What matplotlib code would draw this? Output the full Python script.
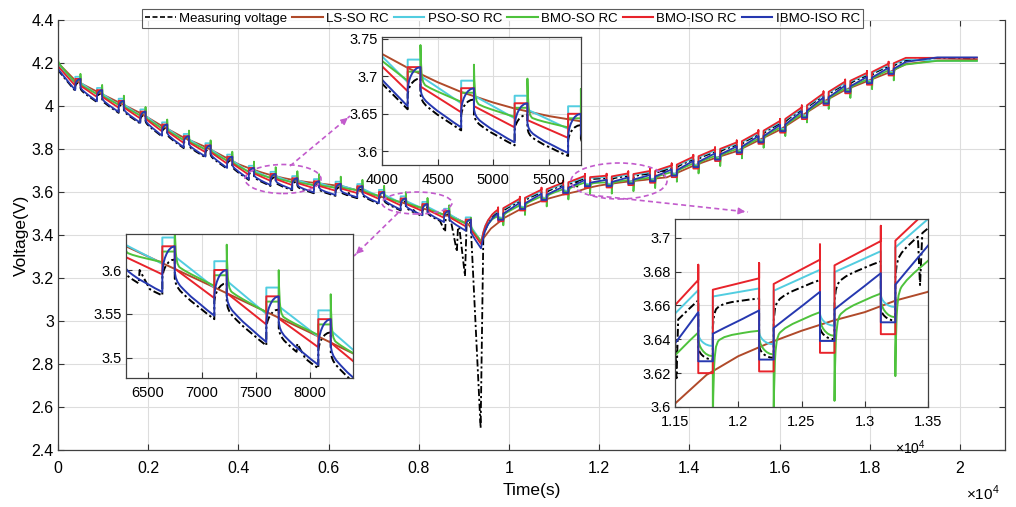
import numpy as np
import matplotlib.pyplot as plt
from matplotlib.patches import Ellipse, FancyArrowPatch
from matplotlib.lines import Line2D
from matplotlib.ticker import FuncFormatter

plt.rcParams['font.family'] = ['Liberation Sans', 'DejaVu Sans']
plt.rcParams['mathtext.fontset'] = 'custom'
plt.rcParams['mathtext.rm'] = 'Liberation Sans'

names = ['Measuring voltage', 'LS-SO RC', 'PSO-SO RC', 'BMO-SO RC', 'BMO-ISO RC', 'IBMO-ISO RC']
colors = ['black', '#B04A2A', '#52CDE0', '#4EC23C', '#E8232B', '#2638B0']

# rest periods of the pulse test (s)
dis_rest_start = [383, 864, 1345, 1826, 2307, 2788, 3269, 3750, 4231, 4712,
                  5193, 5674, 6155, 6636, 7117, 7598, 8079, 8560, 9041]
chg_rest_start = [9760, 10241, 10722, 11203, 11684, 12165, 12646, 13127, 13608, 14089,
                  14570, 15051, 15532, 16013, 16494, 16975, 17456, 17937, 18418]
rest_len = 115
t_min = 9380

# IBMO-ISO voltage just before every rest (discharge: bottoms, charge: tops)
dis_env_v = [4.074, 4.022, 3.972, 3.922, 3.862, 3.808, 3.765, 3.712, 3.660, 3.632,
             3.612, 3.598, 3.586, 3.575, 3.548, 3.518, 3.492, 3.460, 3.420]
chg_env_v = [3.500, 3.550, 3.592, 3.625, 3.656, 3.657, 3.668, 3.679, 3.705, 3.745,
             3.780, 3.812, 3.860, 3.912, 3.975, 4.040, 4.095, 4.135, 4.178]
start_v = 4.165
turn_t = [9380, 9450, 9550, 9650]
turn_v = [3.338, 3.410, 3.455, 3.482]
end_t = [18800, 19500, 20377]
end_v = [4.205, 4.222, 4.224]

# per model levels relative to the envelope (order as names)
start_level = [4.170, 4.200, 4.190, 4.215, 4.185, 4.175]
dis_offset = [-0.004, 0.045, 0.032, 0.034, 0.020, 0.0]
dis_rest_lo = [0.020, 0.0, 0.030, 0.012, 0.032, 0.022]
dis_rest_hi = [0.041, 0.0, 0.030, 0.012, 0.032, 0.052]
dis_relax = [0.026, 0.0, 0.015, 0.012, 0.013, 0.029]
dis_spike = [0.0, 0.0, 0.0, 0.042, 0.0, 0.0]
dis_shape = [0, 0, 2, 1, 2, 0]
chg_offset = [0.007, -0.020, 0.013, -0.012, 0.019, 0.0]
chg_rest_lo = [-0.028, 0.0, -0.026, -0.004, -0.055, -0.029]
chg_rest_hi = [-0.035, 0.0, -0.033, -0.014, -0.055, -0.029]
chg_pre_spike = [0.0, 0.0, 0.0, 0.0, 0.009, 0.0]
chg_relax = [-0.016, 0.0, -0.004, -0.020, -0.006, -0.013]
chg_spike = [0.0, 0.0, 0.0, -0.035, 0.0, 0.0]
chg_shape = [1, 0, 2, 1, 2, 2]
end_level = [4.223, 4.215, 4.210, 4.210, 4.224, 4.226]

# relaxation shapes read from the zoomed views
rest_dt = [0, 5, 12, 24, 40, 60, 85, 115]
rest_rise = [0, 0.2, 0.38, 0.56, 0.72, 0.86, 0.96, 1.0]
relax_dt = [0, 10, 25, 50, 90, 150, 240, 300, 366]
relax_exp = [1.0, 0.8, 0.67, 0.56, 0.46, 0.33, 0.19, 0.09, 0.0]
relax_fast = [1.0, 0.55, 0.35, 0.24, 0.16, 0.1, 0.05, 0.02, 0.0]
relax_lin = [1.0, 0.97, 0.93, 0.86, 0.75, 0.59, 0.35, 0.18, 0.0]
spike_dt = [0, 3, 8, 15, 25, 40]
spike_decay = [1.0, 0.6, 0.32, 0.15, 0.05, 0.0]
shapes = [relax_exp, relax_fast, relax_lin]

# LS-SO RC output is smooth
ls_t = [0, 383, 864, 1345, 1826, 2307, 2788, 3269, 3750, 4000, 4231, 4500, 4712, 5000, 5193,
        5500, 5790, 6300, 7000, 7500, 8000, 8400, 8800, 9100, 9380, 9600, 9900, 10300, 10800,
        11200, 11500, 11750, 12000, 12250, 12500, 12750, 13000, 13250, 13500, 14089, 14570,
        15051, 15532, 16013, 16494, 16975, 17456, 17937, 18418, 18800, 19500, 20377]
ls_v = [4.200, 4.119, 4.067, 4.017, 3.967, 3.907, 3.853, 3.810, 3.757, 3.7295, 3.711, 3.692,
        3.679, 3.665, 3.657, 3.647, 3.640, 3.627, 3.587, 3.558, 3.529, 3.505, 3.480, 3.450,
        3.370, 3.430, 3.480, 3.525, 3.565, 3.588, 3.602, 3.619, 3.630, 3.638, 3.645, 3.651,
        3.656, 3.663, 3.668, 3.722, 3.758, 3.790, 3.840, 3.890, 3.955, 4.020, 4.075, 4.115,
        4.155, 4.195, 4.212, 4.215]

# extra spikes in the measured voltage
meas_evt_t0 = [6418, 7878, 8470, 8720, 8900, 9150, 11495, 13420]
meas_evt_tp = [6426, 7885, 8585, 8845, 9025, 9372, 11512, 13437]
meas_evt_vp = [3.600, 3.516, 3.415, 3.322, 3.209, 2.502, 3.617, 3.672]
meas_evt_t1 = [6520, 7960, 8600, 8870, 9060, 9430, 11525, 13455]

env_t = np.array([0] + dis_rest_start + turn_t + chg_rest_start + end_t, float)
env_v = np.array([start_v] + dis_env_v + turn_v + chg_env_v + end_v)


def env(t):
    return np.interp(t, env_t, env_v)


def relax_segment(t0, t1, off, R, shape, S):
    L = t1 - t0
    rdt = np.array(relax_dt) * L / relax_dt[-1]
    dts = rdt
    if S:
        dts = np.union1d(rdt, [d for d in spike_dt if d < L])
    v = env(t0 + dts) + off + R * np.interp(dts, rdt, shape) + S * np.interp(dts, spike_dt, spike_decay)
    return list(t0 + dts), list(v)


def build(i):
    T, V = [], []
    off = dis_offset[i]
    a, b = relax_segment(0, dis_rest_start[0], off, start_level[i] - start_v - off, shapes[dis_shape[i]], 0)
    T += a; V += b
    for k, ts in enumerate(dis_rest_start):
        lvl = env(ts) + off
        T += list(ts + np.array(rest_dt))
        V += list(lvl + dis_rest_lo[i] + (dis_rest_hi[i] - dis_rest_lo[i]) * np.array(rest_rise))
        nxt = dis_rest_start[k + 1] if k + 1 < len(dis_rest_start) else t_min
        a, b = relax_segment(ts + rest_len, nxt, off, dis_relax[i], shapes[dis_shape[i]], dis_spike[i])
        T += a; V += b
    off_c = chg_offset[i]
    a, b = relax_segment(t_min, chg_rest_start[0], off_c, off - off_c, relax_exp, 0)
    T += a; V += b
    for k, ts in enumerate(chg_rest_start):
        lvl = env(ts) + off_c
        if chg_pre_spike[i]:
            T.append(ts); V.append(lvl + chg_pre_spike[i])
        T += list(ts + np.array(rest_dt))
        V += list(lvl + chg_rest_lo[i] + (chg_rest_hi[i] - chg_rest_lo[i]) * np.array(rest_rise))
        nxt = chg_rest_start[k + 1] if k + 1 < len(chg_rest_start) else end_t[0]
        a, b = relax_segment(ts + rest_len, nxt, off_c, chg_relax[i], shapes[chg_shape[i]], chg_spike[i])
        T += a; V += b
    T += end_t[1:]
    V += [end_level[i]] * 2
    return np.array(T, float), np.array(V, float)


curves = []
for i in range(6):
    if i == 1:
        curves.append((np.array(ls_t, float), np.array(ls_v)))
        continue
    T, V = build(i)
    if i == 0:
        for t0, tp, vp, t1 in zip(meas_evt_t0, meas_evt_tp, meas_evt_vp, meas_evt_t1):
            v0, v1 = np.interp(t0, T, V), np.interp(t1, T, V)
            keep = (T < t0) | (T > t1)
            T = np.concatenate([T[keep], [t0, tp, t1]])
            V = np.concatenate([V[keep], [v0, vp, v1]])
            o = np.argsort(T, kind='stable')
            T, V = T[o], V[o]
    curves.append((T, V))

W, H = 1016, 507
fig = plt.figure(figsize=(W / 100, H / 100), dpi=100)


def fx(x):
    return x / W


def fy(y):
    return 1 - y / H


def style(a, fs, xpad):
    a.grid(True, color='#dddddd', lw=0.8)
    a.set_axisbelow(True)
    a.tick_params(direction='in', labelsize=fs, length=4, color='#333333', pad=3)
    a.tick_params(axis='x', pad=xpad)
    for s in a.spines.values():
        s.set_color('#404040')
        s.set_linewidth(0.9)


def draw(a, lw):
    for i, (T, V) in enumerate(curves):
        if i == 0:
            a.plot(T, V, color='black', lw=lw, dashes=(4, 1.5, 1.2, 1.5))
        else:
            a.plot(T, V, color=colors[i], lw=lw)


ax = fig.add_axes([fx(58), fy(450), fx(947), 430 / H])
draw(ax, 1.3)
ax.set_xlim(0, 21000)
ax.set_ylim(2.4, 4.4)
ax.set_xticks(np.arange(0, 20001, 2000))
ax.set_yticks(np.arange(2.4, 4.41, 0.2))
ax.xaxis.set_major_formatter(FuncFormatter(lambda x, p: f'{x / 1e4:g}'))
ax.yaxis.set_major_formatter(FuncFormatter(lambda y, p: f'{round(y, 2):g}'))
style(ax, 11.5, 8)
ax.spines['top'].set_visible(False)
ax.tick_params(top=True, right=True)
ax.set_xlabel('Time(s)', fontsize=12.5, labelpad=5)
ax.set_ylabel('Voltage(V)', fontsize=12.5, labelpad=2)
fig.text(fx(966), fy(493), r'$\times10^{4}$', fontsize=11, va='center', ha='left')

# insets
ins = [
    ([382, 37, 581, 165], (4000, 5790), (3.582, 3.752), [4000, 4500, 5000, 5500], [3.6, 3.65, 3.7, 3.75]),
    ([126, 234, 353, 378], (6300, 8400), (3.477, 3.641), [6500, 7000, 7500, 8000], [3.5, 3.55, 3.6]),
    ([675, 219, 928, 407], (11500, 13500), (3.6, 3.711), [11500, 12000, 12500, 13000, 13500],
     [3.6, 3.62, 3.64, 3.66, 3.68, 3.7]),
]
for j, (box, xl, yl, xt, yt) in enumerate(ins):
    x0, y0, x1, y1 = box
    a = fig.add_axes([fx(x0), fy(y1), fx(x1 - x0), (y1 - y0) / H], zorder=5)
    draw(a, 1.4)
    a.set_xlim(*xl)
    a.set_ylim(*yl)
    a.set_xticks(xt)
    a.set_yticks(yt)
    if j == 2:
        a.xaxis.set_major_formatter(FuncFormatter(lambda x, p: f'{x / 1e4:g}'))
    else:
        a.xaxis.set_major_formatter(FuncFormatter(lambda x, p: f'{x:g}'))
    a.yaxis.set_major_formatter(FuncFormatter(lambda y, p: f'{round(y, 3):g}'))
    style(a, 10.5, 6)
fig.text(fx(895), fy(448), r'$\times10^{4}$', fontsize=10, va='center', ha='left')

# dashed magenta marks
mag = '#C25BCC'
for cx, cy, w, h in [(283, 179, 76, 29), (417, 203, 70, 22), (619, 181, 96, 36)]:
    fig.add_artist(Ellipse((fx(cx), fy(cy)), fx(w), h / H, transform=fig.transFigure,
                           fill=False, ec=mag, ls=(0, (3, 2)), lw=1.2, zorder=3))
for (xa, ya), (xb, yb) in [((290, 166), (350, 116)), ((398, 213), (354, 256)), ((590, 195), (748, 212))]:
    fig.add_artist(Line2D([fx(xa), fx(xb)], [fy(ya), fy(yb)], transform=fig.transFigure,
                          color=mag, ls=(0, (3, 2)), lw=1.2, zorder=3))
    dx, dy = xb - xa, yb - ya
    n = np.hypot(dx, dy)
    fig.add_artist(FancyArrowPatch((fx(xb - 8 * dx / n), fy(yb - 8 * dy / n)), (fx(xb), fy(yb)),
                                   transform=fig.transFigure, arrowstyle='-|>', mutation_scale=10,
                                   color=mag, lw=1.0, zorder=3))

handles = [Line2D([], [], color='black', lw=1.2, dashes=(3, 1.5))] + \
          [Line2D([], [], color=c, lw=1.5) for c in colors[1:]]
leg = fig.legend(handles, names, loc='upper left', bbox_to_anchor=(fx(142), fy(9)), ncol=6,
                 fontsize=9.5, handlelength=2.3, handletextpad=0.25, columnspacing=0.4,
                 borderpad=0.25, borderaxespad=0, frameon=True, fancybox=False)
leg.get_frame().set_edgecolor('#333333')
leg.get_frame().set_linewidth(0.8)
leg.set_zorder(10)

fig.savefig('out.png', dpi=100)
